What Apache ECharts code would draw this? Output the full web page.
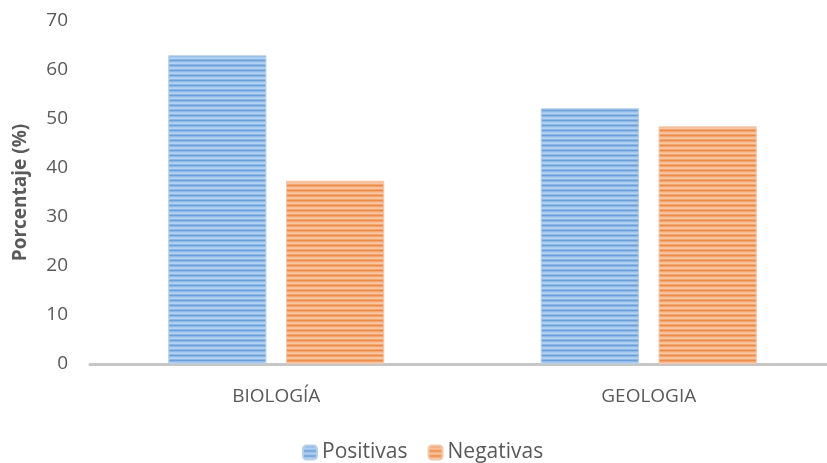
<!DOCTYPE html>
<html>
<head>
<meta charset="utf-8">
<script src="https://cdn.jsdelivr.net/npm/echarts@6/dist/echarts.min.js"></script>
<style>
html,body{margin:0;padding:0;background:#fff;overflow:hidden;}
#c{width:836px;height:463px;}
</style>
</head>
<body>
<div id="c"></div>
<script>
const categories = ['BIOLOGÍA', 'GEOLOGIA'];
const positivas = [63, 52.2];
const negativas = [37.4, 48.5];
const yTicks = {min: 0, max: 70, interval: 10};

function stripe(colors) {
  const cv = document.createElement('canvas');
  cv.width = 4; cv.height = colors.length;
  const ctx = cv.getContext('2d');
  colors.forEach((c, i) => { ctx.fillStyle = c; ctx.fillRect(0, i, 4, 1); });
  return {image: cv, repeat: 'repeat'};
}
const bluePat = stripe(['#6a9fd9', '#8fb9e6', '#a9cbef', '#b4d2f1', '#8db8e6']);
const orangePat = stripe(['#ee8a47', '#f3a570', '#f6bd96', '#f7c6a3', '#f3a56f']);

const chart = echarts.init(document.getElementById('c'));
chart.setOption({
  animation: false,
  textStyle: {fontFamily: 'Open Sans'},
  grid: {left: 90, right: 1, top: 21, bottom: 99},
  legend: {
    bottom: -5, left: 297,
    itemWidth: 14, itemHeight: 14, itemGap: 20,
    textStyle: {color: '#595959', fontSize: 21, fontFamily: 'Open Sans'},
    data: ['Positivas', 'Negativas']
  },
  xAxis: {
    type: 'category', data: categories,
    axisLine: {lineStyle: {color: '#c6c6c6', width: 3}},
    axisTick: {show: false},
    axisLabel: {color: '#595959', fontSize: 19, margin: 23}
  },
  yAxis: {
    type: 'value', min: yTicks.min, max: yTicks.max, interval: yTicks.interval,
    name: 'Porcentaje (%)', nameLocation: 'middle', nameGap: 60,
    nameTextStyle: {color: '#595959', fontSize: 19, fontWeight: 'bold'},
    axisLine: {show: false}, axisTick: {show: false},
    splitLine: {show: false},
    axisLabel: {color: '#595959', fontSize: 19, margin: 22}
  },
  series: [
    {name: 'Positivas', type: 'bar', data: positivas, barGap: '20%', barCategoryGap: '42%',
     itemStyle: {color: bluePat, borderColor: '#b9cfe8', borderWidth: 1}},
    {name: 'Negativas', type: 'bar', data: negativas,
     itemStyle: {color: orangePat, borderColor: '#f0c9ae', borderWidth: 1}}
  ]
});
</script>
</body>
</html>
